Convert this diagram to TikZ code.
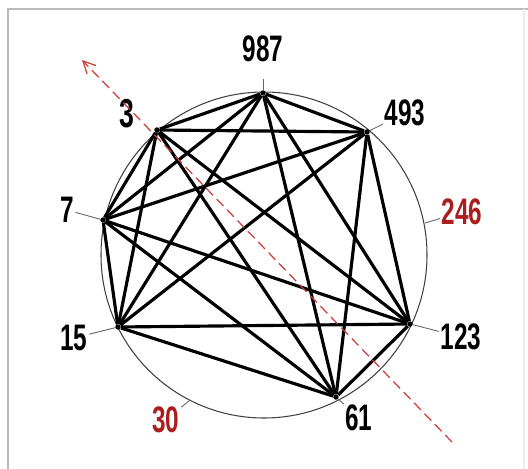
\documentclass[tikz,border=0pt]{standalone}
\usepackage{fontspec}
\newfontfamily\lblfont[FakeStretch=0.66]{Liberation Sans}
\usetikzlibrary{arrows.meta}
\definecolor{darkred}{RGB}{170,30,30}
\definecolor{arrowred}{RGB}{205,60,55}
\tikzset{
  edge/.style={line width=1.8pt},
  vdot/.style={circle,fill,inner sep=1.1pt},
  lbl/.style={font=\lblfont\bfseries\fontsize{21}{21}\selectfont,inner sep=0pt,outer sep=1pt},
  tick/.style={black!60,line width=0.5pt},
}
\begin{document}
\begin{tikzpicture}[x=0.02cm,y=-0.02cm]
\useasboundingbox (0,0) rectangle (528,468);
\draw[gray!55,line width=1.2pt] (8,470) -- (8,9) -- (528,9);
\draw[gray!15,line width=0.8pt] (524,9) -- (524,470);
\draw[black!75,line width=0.6pt] (264,255) circle (163);
% Ecken
\node[vdot] (p987) at (263,93) {};
\node[vdot] (p493) at (367,132) {};
\node[vdot] (p123) at (410,324) {};
\node[vdot] (p61) at (336,397) {};
\node[vdot] (p15) at (118,327) {};
\node[vdot] (p7) at (103,220) {};
\node[vdot] (p3) at (157,130) {};
\draw[edge] (p3) -- (p987) -- (p493) -- (p123) -- (p61) -- (p15) -- (p7) -- (p3);
\draw[edge] (p3) -- (p493);
\draw[edge] (p3) -- (p123);
\draw[edge] (p3) -- (p61);
\draw[edge] (p3) -- (p15);
\draw[edge] (p987) -- (p123);
\draw[edge] (p987) -- (p61);
\draw[edge] (p987) -- (p15);
\draw[edge] (p987) -- (p7);
\draw[edge] (p493) -- (p61);
\draw[edge] (p493) -- (p15);
\draw[edge] (p493) -- (p7);
\draw[edge] (p123) -- (p15);
\draw[edge] (p123) -- (p7);
\draw[edge] (p61) -- (p7);
% Beschriftung
\node[lbl] (l987) at (263,49) {987};
\node[lbl] (l493) at (405,113) {493};
\node[lbl] (l123) at (461,337) {123};
\node[lbl] (l61) at (359,418) {61};
\node[lbl] (l15) at (74,338) {15};
\node[lbl] (l7) at (67,210) {7};
\node[lbl,font=\lblfont\bfseries\fontsize{23}{23}\selectfont] (l3) at (127,114) {3};
\node[lbl,darkred] (l246) at (462,212) {246};
\node[lbl,darkred] (l30) at (166,420) {30};
\draw[tick,shorten >=15pt*0.02/0.0352778] (p987) -- (l987);
\draw[tick] (p493) -- (l493);
\draw[tick] (p123) -- (l123);
\draw[tick] (p61) -- (l61);
\draw[tick] (p15) -- (l15);
\draw[tick] (p7) -- (l7);
\coordinate (c246) at (425,223);
\coordinate (c30) at (190,400);
\draw[tick] (c246) -- (l246);
\draw[tick] (c30) -- (l30);
% Achse
\coordinate (atail) at (452,442);
\coordinate (ahead) at (82,60);
\draw[arrowred,line width=0.7pt,dash pattern=on 5.5pt off 3pt,-{Straight Barb[length=7pt,width=7pt]}] (atail) -- (ahead);
\end{tikzpicture}
\end{document}
